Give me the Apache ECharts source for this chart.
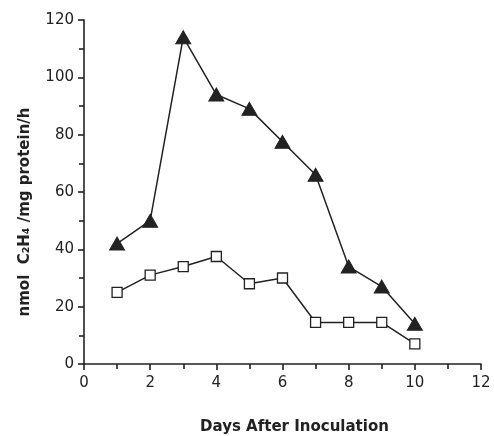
<!DOCTYPE html>
<html>
<head>
<meta charset="utf-8">
<script src="https://cdn.jsdelivr.net/npm/echarts@6/dist/echarts.min.js"></script>
<style>
  html, body { margin: 0; padding: 0; background: #fff; }
  #chart { width: 494px; height: 436px; }
</style>
</head>
<body>
<div id="chart"></div>
<script>
// days after inoculation
var days = [1, 2, 3, 4, 5, 6, 7, 8, 9, 10]
// filled triangles
var triangleVals = [42, 50, 114, 94, 89, 77.5, 66, 34, 27, 14]
// open squares
var squareVals = [25, 31, 34, 37.5, 28, 30, 14.5, 14.5, 14.5, 7]

var ink = '#222'
var font = 'DejaVu Sans'

function pairs(xs, ys) {
  return xs.map(function(x, i) { return [x, ys[i]] })
}

var chart = echarts.init(document.getElementById('chart'))
var option = {
  backgroundColor: '#fff',
  animation: false,
  grid: { left: 84, right: 13, top: 20, bottom: 72, outerBoundsMode: 'none' },
  xAxis: {
    type: 'value',
    min: 0,
    max: 12,
    interval: 2,
    name: 'Days After Inoculation',
    nameLocation: 'middle',
    nameGap: 56,
    nameTextStyle: { color: ink, fontSize: 15, fontWeight: 'bold', fontFamily: font, padding: [0, 0, 0, 24] },
    axisLine: { show: true, lineStyle: { color: ink, width: 1.6 } },
    axisTick: { show: true, length: 6, lineStyle: { color: ink, width: 1.6 } },
    minorTick: { show: true, splitNumber: 2, length: 5, lineStyle: { color: ink, width: 1.6 } },
    axisLabel: { color: ink, fontSize: 15, fontFamily: font, margin: 12 },
    splitLine: { show: false }
  },
  yAxis: {
    type: 'value',
    min: 0,
    max: 120,
    interval: 20,
    name: 'nmol  C₂H₄ /mg protein/h',
    nameLocation: 'middle',
    nameGap: 51,
    nameRotate: 90,
    nameTextStyle: { color: ink, fontSize: 15, fontWeight: 'bold', fontFamily: font, padding: [0, 0, 0, -40] },
    axisLine: { show: true, lineStyle: { color: ink, width: 1.6 } },
    axisTick: { show: true, length: 6, lineStyle: { color: ink, width: 1.6 } },
    minorTick: { show: true, splitNumber: 2, length: 5, lineStyle: { color: ink, width: 1.6 } },
    axisLabel: { color: ink, fontSize: 15, fontFamily: font, margin: 10 },
    splitLine: { show: false }
  },
  series: [
    {
      name: 'triangle',
      type: 'line',
      data: pairs(days, triangleVals),
      symbol: 'triangle',
      symbolSize: [15, 13],
      lineStyle: { color: ink, width: 1.5 },
      itemStyle: { color: ink, borderColor: ink },
      z: 3
    },
    {
      name: 'square',
      type: 'line',
      data: pairs(days, squareVals),
      symbol: 'rect',
      symbolSize: 10,
      lineStyle: { color: ink, width: 1.5 },
      itemStyle: { color: '#fff', borderColor: ink, borderWidth: 1.3 },
      z: 2
    }
  ]
}
chart.setOption(option)
</script>
</body>
</html>
